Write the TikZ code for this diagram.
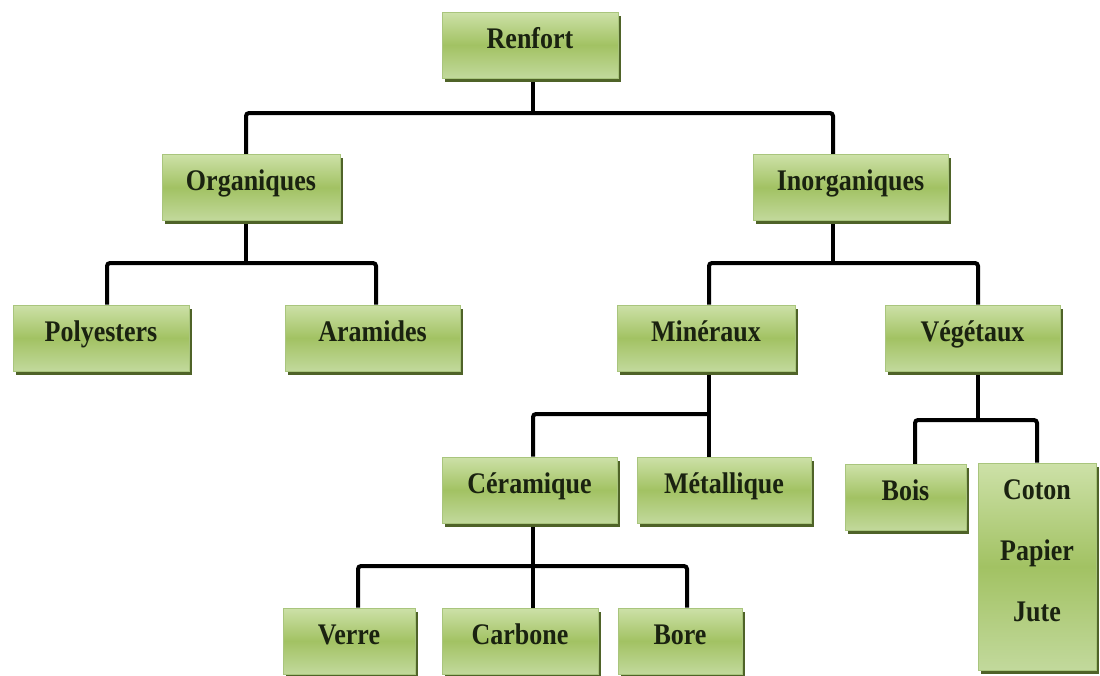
\documentclass[tikz,border=0pt]{standalone}
\usepackage{fontspec}
\usepackage{graphicx}
\setmainfont{Liberation Serif}
\usetikzlibrary{shadows,backgrounds}
\definecolor{gtop}{HTML}{CDE1A8}
\definecolor{gmid}{HTML}{A2C263}
\definecolor{gbot}{HTML}{C2D99C}
\definecolor{gshadow}{HTML}{4F6328}
\definecolor{gedge}{HTML}{A9C57D}
\definecolor{txt}{HTML}{1A2210}
\newcommand{\bt}[1]{\scalebox{1}[1.15]{#1}}
\tikzset{
  box/.style={rectangle, inner sep=0pt, top color=gtop, bottom color=gbot, middle color=gmid,
    draw=gedge, line width=0.8pt,
    drop shadow={shadow xshift=3pt, shadow yshift=-3.5pt, fill=gshadow, opacity=1},
    font=\fontsize{26}{31}\selectfont\bfseries, text=txt, minimum height=66pt},
  onebox/.style={box, text height=16pt, text depth=10pt},
  conn/.style={line width=4pt, black, rounded corners=3pt}
}
\begin{document}
\begin{tikzpicture}[x=1pt,y=-1pt]
\useasboundingbox (0,0) rectangle (1100,675);
\node[onebox, minimum width=176pt] (renfort) at (530,45) {\bt{Renfort}};
\node[onebox, minimum width=178pt] (org) at (251,187.5) {\bt{Organiques}};
\node[onebox, minimum width=195pt] (inorg) at (850.5,187.5) {\bt{Inorganiques}};
\node[onebox, minimum width=176pt] (poly) at (101,338) {\bt{Polyesters}};
\node[onebox, minimum width=175pt] (aram) at (372.5,338) {\bt{Aramides}};
\node[onebox, minimum width=178pt] (min) at (706,338) {\bt{Minéraux}};
\node[onebox, minimum width=175pt] (veg) at (972.5,338) {\bt{Végétaux}};
\node[onebox, minimum width=175pt] (cer) at (529.5,490) {\bt{Céramique}};
\node[onebox, minimum width=174pt] (met) at (724,490) {\bt{Métallique}};
\node[onebox, minimum width=121pt] (bois) at (905.5,497.5) {\bt{Bois}};
\node[box, minimum width=118pt, minimum height=207pt] (coton) at (1037,566.5)
  {\begin{tabular}{@{}c@{}}\bt{Coton}\\[30pt]\bt{Papier}\\[30pt]\bt{Jute}\rule[-34pt]{0pt}{1pt}\end{tabular}};
\node[onebox, minimum width=132pt] (verre) at (349,641) {\bt{Verre}};
\node[onebox, minimum width=156pt] (carb) at (520,641) {\bt{Carbone}};
\node[onebox, minimum width=124pt] (bore) at (680,641) {\bt{Bore}};
\begin{pgfonlayer}{background}
\coordinate (b1) at (533,113);
\coordinate (b2) at (246,263);
\coordinate (b3) at (833,263);
\coordinate (b4) at (709,414);
\coordinate (b5) at (978,420);
\coordinate (b6) at (533,566);
\draw[conn] ([xshift=3pt]renfort.south) -- (b1);
\draw[conn] ([xshift=-5pt]org.north) |- (b1) -| ([xshift=-17.5pt]inorg.north);
\draw[conn] ([xshift=-5pt]org.south) -- (b2);
\draw[conn] ([xshift=6pt]poly.north) |- (b2) -| ([xshift=3.5pt]aram.north);
\draw[conn] ([xshift=-17.5pt]inorg.south) -- (b3);
\draw[conn] ([xshift=3pt]min.north) |- (b3) -| ([xshift=5.5pt]veg.north);
\draw[conn] ([xshift=3pt]min.south) -- ([xshift=-15pt]met.north);
\draw[conn] ([xshift=3.5pt]cer.north) |- (b4);
\draw[conn] ([xshift=5.5pt]veg.south) -- (b5);
\draw[conn] ([xshift=9.5pt]bois.north) |- (b5) -| (coton.north);
\draw[conn] ([xshift=3.5pt]cer.south) -- ([xshift=13pt]carb.north);
\draw[conn] ([xshift=9pt]verre.north) |- (b6) -| ([xshift=7pt]bore.north);
\end{pgfonlayer}
\end{tikzpicture}
\end{document}
